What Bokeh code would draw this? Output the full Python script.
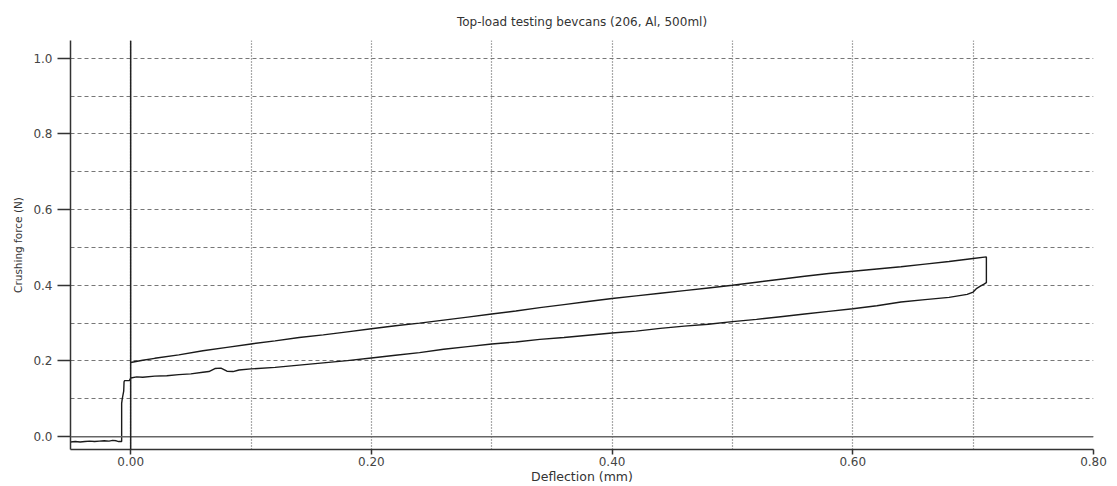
from bokeh.plotting import figure
from bokeh.models import Range1d, FixedTicker, Span, PrintfTickFormatter
from bokeh.embed import file_html
from bokeh.resources import INLINE

# ---- data ----
preload_x = [-0.050, -0.046, -0.042, -0.038, -0.034, -0.030, -0.026, -0.022, -0.018, -0.015, -0.012, -0.010, -0.0075]
preload_y = [-0.014, -0.013, -0.014, -0.013, -0.012, -0.013, -0.012, -0.011, -0.012, -0.010, -0.011, -0.013, -0.013]

jump_x = [-0.0075, -0.0070, -0.0058, -0.0055, -0.0050, -0.0010, 0.000]
jump_y = [0.088, 0.100, 0.120, 0.145, 0.148, 0.148, 0.155]

loading_x = [0.000, 0.005, 0.010, 0.020, 0.030, 0.040, 0.050, 0.060, 0.065, 0.070, 0.075,
             0.080, 0.085, 0.090, 0.100, 0.120, 0.140, 0.160, 0.180, 0.200, 0.220, 0.240,
             0.260, 0.280, 0.300, 0.320, 0.340, 0.360, 0.380, 0.400, 0.420, 0.440, 0.460,
             0.480, 0.500, 0.520, 0.540, 0.560, 0.580, 0.600, 0.620, 0.640, 0.660, 0.680,
             0.695, 0.700, 0.703, 0.706, 0.709, 0.711]
loading_y = [0.155, 0.158, 0.157, 0.160, 0.161, 0.164, 0.166, 0.170, 0.172, 0.180, 0.181,
             0.173, 0.172, 0.176, 0.179, 0.183, 0.189, 0.195, 0.201, 0.208, 0.215, 0.222,
             0.231, 0.238, 0.245, 0.250, 0.257, 0.262, 0.268, 0.274, 0.279, 0.286, 0.292,
             0.297, 0.304, 0.310, 0.317, 0.324, 0.331, 0.338, 0.346, 0.356, 0.362, 0.368,
             0.376, 0.382, 0.392, 0.398, 0.403, 0.407]

unloading_x = [0.711, 0.711, 0.700, 0.680, 0.660, 0.640, 0.620, 0.600, 0.580, 0.560, 0.540,
               0.520, 0.500, 0.480, 0.460, 0.440, 0.420, 0.400, 0.380, 0.360, 0.340, 0.320,
               0.300, 0.280, 0.260, 0.240, 0.220, 0.200, 0.180, 0.160, 0.140, 0.120, 0.100,
               0.080, 0.060, 0.040, 0.020, 0.010, 0.000]
unloading_y = [0.407, 0.475, 0.471, 0.463, 0.456, 0.449, 0.443, 0.437, 0.431, 0.424, 0.416,
               0.408, 0.400, 0.393, 0.386, 0.379, 0.372, 0.365, 0.357, 0.349, 0.341, 0.332,
               0.324, 0.316, 0.308, 0.300, 0.293, 0.285, 0.277, 0.269, 0.262, 0.253, 0.245,
               0.236, 0.227, 0.216, 0.207, 0.202, 0.196]

x_ticks = [0.0, 0.2, 0.4, 0.6, 0.8]
x_minor = [0.1, 0.3, 0.5, 0.7]
y_ticks = [0.0, 0.2, 0.4, 0.6, 0.8, 1.0]
y_minor = [0.1, 0.3, 0.5, 0.7, 0.9]

FONT = "DejaVu Sans"
DARK = "#333333"

p = figure(width=1117, height=486, output_backend="svg", toolbar_location=None,
           x_range=Range1d(-0.05, 0.80), y_range=Range1d(-0.034, 1.047),
           min_border_left=70, min_border_right=24, min_border_top=37, min_border_bottom=34,
           title="Top-load testing bevcans (206, Al, 500ml)")
p.outline_line_color = None
p.background_fill_color = "white"
p.border_fill_color = "white"

p.title.align = "center"
p.title.text_font = FONT
p.title.text_font_size = "12px"
p.title.text_font_style = "normal"
p.title.text_color = DARK
p.title.standoff = 24

# axes
p.xaxis.ticker = FixedTicker(ticks=x_ticks, minor_ticks=x_minor)
p.yaxis.ticker = FixedTicker(ticks=y_ticks, minor_ticks=y_minor)
p.xaxis.formatter = PrintfTickFormatter(format="%.2f")
p.yaxis.formatter = PrintfTickFormatter(format="%.1f")
for ax in (p.xaxis, p.yaxis):
    ax.axis_line_color = DARK
    ax.axis_line_width = 1.5
    ax.major_tick_line_color = DARK
    ax.major_tick_line_width = 1.5
    ax.major_tick_in = 0
    ax.minor_tick_in = 0
    ax.minor_tick_out = 0
    ax.major_label_text_font = FONT
    ax.major_label_text_font_size = "12px"
    ax.major_label_text_color = "#444444"
    ax.axis_label_text_font = FONT
    ax.axis_label_text_font_style = "normal"
    ax.axis_label_text_color = DARK

p.xaxis.axis_label = "Deflection (mm)"
p.xaxis.major_tick_out = 5
p.xaxis.major_label_standoff = 2
p.xaxis.axis_label_standoff = 0
p.xaxis.axis_label_text_font_size = "12.5px"

p.yaxis.axis_label = "Crushing force (N)"
p.yaxis.major_tick_out = 13
p.yaxis.major_label_standoff = 5
p.yaxis.axis_label_standoff = 6
p.yaxis.axis_label_text_font_size = "10.5px"

# grids
p.xgrid.ticker = FixedTicker(ticks=x_ticks, minor_ticks=x_minor)
p.ygrid.ticker = FixedTicker(ticks=y_ticks, minor_ticks=y_minor)
p.xgrid.grid_line_color = "#555555"
p.xgrid.grid_line_dash = "1 2"
p.xgrid.grid_line_width = 1.2
p.xgrid.minor_grid_line_color = "#555555"
p.xgrid.minor_grid_line_dash = "1 2"
p.xgrid.minor_grid_line_width = 1.2
p.ygrid.grid_line_color = "#777777"
p.ygrid.grid_line_dash = "4 3"
p.ygrid.grid_line_width = 1
p.ygrid.minor_grid_line_color = "#777777"
p.ygrid.minor_grid_line_dash = "4 3"
p.ygrid.minor_grid_line_width = 1

# reference lines at zero
p.add_layout(Span(location=0, dimension="width", line_color="#666666", line_width=1.5))
p.add_layout(Span(location=0, dimension="height", line_color="#222222", line_width=1.5))

# curve
curve_x = preload_x + jump_x + loading_x + unloading_x
curve_y = preload_y + jump_y + loading_y + unloading_y
p.line(curve_x, curve_y, line_color="#1a1a1a", line_width=1.4)

open("out.html", "w").write(file_html(p, INLINE))
